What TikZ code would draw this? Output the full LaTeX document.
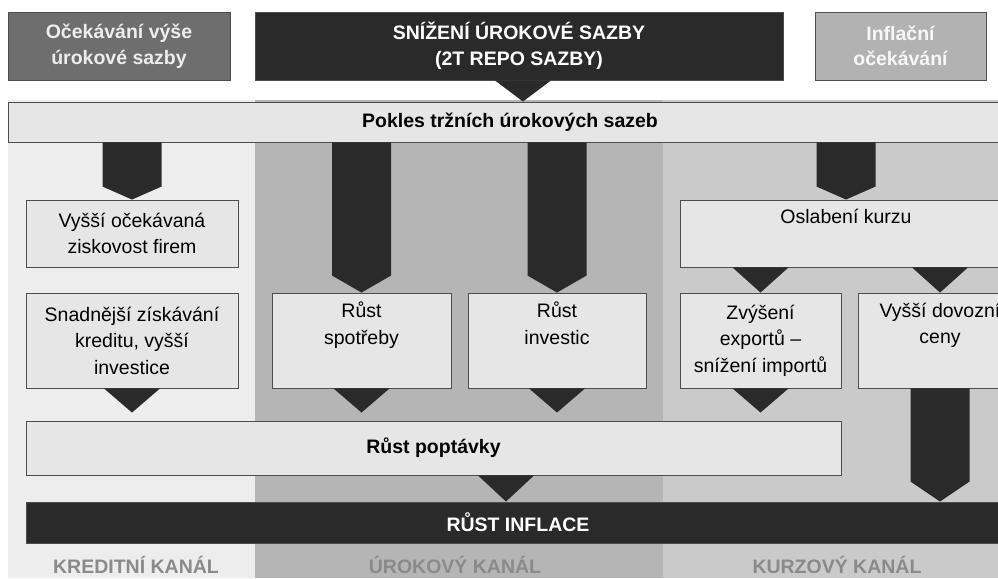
\documentclass[tikz,border=0pt]{standalone}
\usepackage{fontspec}
\setmainfont{Liberation Sans}
\definecolor{ink}{HTML}{2A2A2A}
\definecolor{paper}{HTML}{E6E6E6}
\definecolor{rim}{HTML}{4D4D4D}
\definecolor{creditbg}{HTML}{EDEDED}
\definecolor{ratebg}{HTML}{B5B5B5}
\definecolor{fxbg}{HTML}{CACACA}
\definecolor{channelgray}{HTML}{8A8A8A}
\tikzset{txt/.style={font=\fontsize{19.5}{26.5}\selectfont, align=center, inner sep=0pt}}
\tikzset{wh/.style 2 args={minimum width=#1pt, minimum height=#2pt}}
\tikzset{box/.style={txt, draw=rim, line width=0.9pt, fill=paper}}
\tikzset{bar/.style={box, font=\bfseries\fontsize{19.5}{25.5}\selectfont}}
\tikzset{cause/.style={bar, text=white}}
\tikzset{channel/.style={txt, font=\bfseries\fontsize{19.5}{25.5}\selectfont, text=channelgray}}
\tikzset{shaft/.style={to path={([xshift=-29.5pt]\tikztostart) -- ([xshift=29.5pt]\tikztostart)
  -- ([xshift=29.5pt,yshift=#1]\tikztotarget-|\tikztostart) -- (\tikztotarget-|\tikztostart)
  -- ([xshift=-29.5pt,yshift=#1]\tikztotarget-|\tikztostart) -- cycle}}}
\tikzset{wedge/.style={to path={([xshift=-28pt]\tikztostart) -- ([xshift=28pt]\tikztostart)
  -- ([yshift=#1]\tikztotarget-|\tikztostart) -- cycle}}, wedge/.default=0pt}

\begin{document}
\begin{tikzpicture}[x=1pt, y=-1pt]
\useasboundingbox (0,0) rectangle (998,578);
\clip (0,0) rectangle (998,578);
% channel backgrounds
\fill[creditbg] (8,100) rectangle (255,578);
\fill[ratebg] (255,100) rectangle (663,578);
\fill[fxbg] (663,100) rectangle (1012,578);

\node[cause, wh={222}{68}, fill=black!57, text=black!7] (expect) at (119,46) {Očekávání výše\\úrokové sazby};
\node[cause, wh={528}{68}, fill=ink] (cut) at (519,46) {SNÍŽENÍ ÚROKOVÉ SAZBY\\(2T REPO SAZBY)};
\node[cause, wh={171}{68}, fill=black!30, text=black!3] (inflexp) at (900.5,46) {Inflační\\očekávání};
\node[bar, wh={1004}{40}] (pokles) at (510,122) {Pokles tržních úrokových sazeb};

\node[box, wh={212}{67}] (profit) at (132,233.5) {Vyšší očekávaná\\ziskovost firem};
\node[box, wh={212}{95}] (credit) at (132,340.5) {Snadnější získávání\\kreditu, vyšší\\investice};
\node[box, wh={179}{95}] (consum) at (361.5,340.5) {Růst\\spotřeby\\\strut};
\node[box, wh={178}{95}] (invest) at (557,340.5) {Růst\\investic\\\strut};
\node[box, wh={332}{67}] (fx) at (846,233.5) {Oslabení kurzu\\\strut};
\node[box, wh={161}{95}] (trade) at (760.5,340.5) {Zvýšení\\exportů –\\snížení importů};
\node[box, wh={164}{95}] (import) at (940,340.5) {Vyšší dovozní\\ceny\\\strut};
\node[bar, wh={815}{54}] (demand) at (433.5,448) {Růst poptávky};
\node[cause, wh={984}{41}, fill=ink] (infl) at (518,522.5) {RŮST INFLACE};

\node[channel] (kred) at (136,565) {KREDITNÍ KANÁL};
\node[channel] (urok) at (455,565) {ÚROKOVÝ KANÁL};
\node[channel] (kurz) at (837,565) {KURZOVÝ KANÁL};

\fill[ink] ([xshift=4pt]cut.south) to[wedge] (pokles.north);
\fill[ink] (pokles.south -| profit.north) to[shaft=13pt] (profit.north);
\fill[ink] (pokles.south -| consum.north) to[shaft=17pt] (consum.north);
\fill[ink] (pokles.south -| invest.north) to[shaft=17pt] (invest.north);
\fill[ink] (pokles.south -| fx.north) to[shaft=13pt] (fx.north);
\fill[ink] (fx.south -| trade.north) to[wedge] (trade.north);
\fill[ink] (fx.south -| import.north) to[wedge] (import.north);
\fill[ink] (credit.south) to[wedge=8pt] (demand.north);
\fill[ink] (consum.south) to[wedge=8pt] (demand.north);
\fill[ink] (invest.south) to[wedge=8pt] (demand.north);
\fill[ink] (trade.south) to[wedge=8pt] (demand.north);
\fill[ink] ([xshift=72.5pt]demand.south) to[wedge] (infl.north);
\fill[ink] (import.south) to[shaft=20pt] (infl.north);
\end{tikzpicture}
\end{document}
